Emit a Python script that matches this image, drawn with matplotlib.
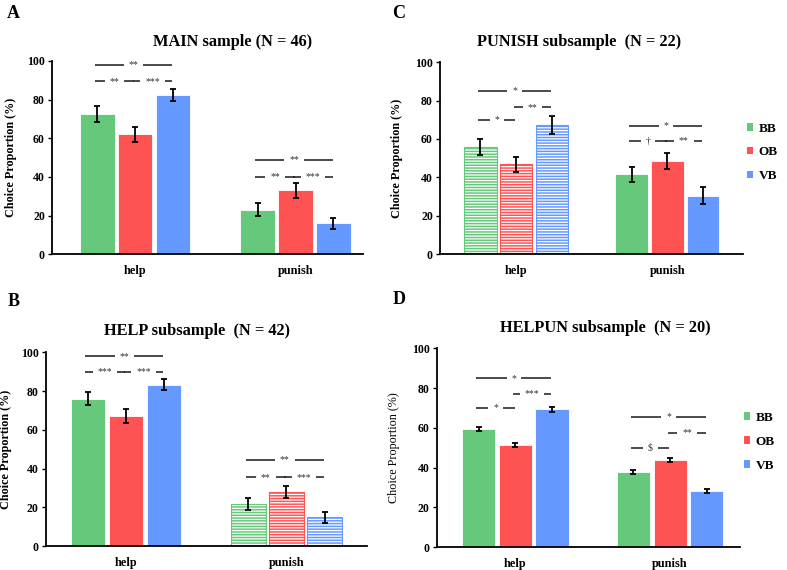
import numpy as np
from matplotlib import use
use("Agg")
from matplotlib import pyplot as plt
from matplotlib.patches import Patch

plt.rcParams['font.family'] = ['Liberation Serif', 'DejaVu Serif']
plt.rcParams['font.weight'] = 'bold'
plt.rcParams['hatch.linewidth'] = 1.1

groups = ["help", "punish"]
conditions = ["BB", "OB", "VB"]
colors = ["#66C87B", "#FF5353", "#6699FF"]

# values are [help, punish] per condition
main_bb, main_ob, main_vb = [72.4, 23.1], [62.0, 33.1], [82.4, 15.9]
main_bb_err, main_ob_err, main_vb_err = [4.1, 3.5], [4.0, 4.0], [3.0, 3.1]

help_bb, help_ob, help_vb = [76.0, 21.5], [67.2, 28.0], [83.3, 14.8]
help_bb_err, help_ob_err, help_vb_err = [3.3, 3.1], [3.5, 3.2], [3.0, 2.7]

pun_bb, pun_ob, pun_vb = [55.8, 41.6], [46.8, 48.5], [67.2, 30.5]
pun_bb_err, pun_ob_err, pun_vb_err = [4.2, 4.0], [4.0, 4.3], [4.7, 4.5]

hp_bb, hp_ob, hp_vb = [59.5, 37.8], [51.5, 43.8], [69.4, 28.3]
hp_bb_err, hp_ob_err, hp_vb_err = [1.0, 1.0], [0.9, 0.8], [1.2, 1.1]

# significance: (group, bar_from, bar_to, level, label)
main_sig = [(0, 0, 2, 98, "**"), (0, 0, 1, 89.5, "**"), (0, 1, 2, 89.5, "***"),
            (1, 0, 2, 49, "**"), (1, 0, 1, 40, "**"), (1, 1, 2, 40, "***")]
help_sig = [(0, 0, 2, 98, "**"), (0, 0, 1, 90, "***"), (0, 1, 2, 90, "***"),
            (1, 0, 2, 44.5, "**"), (1, 0, 1, 35.5, "**"), (1, 1, 2, 35.5, "***")]
pun_sig = [(0, 0, 2, 85, "*"), (0, 1, 2, 76.5, "**"), (0, 0, 1, 70, "*"),
           (1, 0, 2, 67, "*"), (1, 0, 1, 59, "\u2020"), (1, 1, 2, 59, "**")]
hp_sig = [(0, 0, 2, 85, "*"), (0, 1, 2, 77, "***"), (0, 0, 1, 70, "*"),
          (1, 0, 2, 65.7, "*"), (1, 1, 2, 57.5, "**"), (1, 0, 1, 50, "$")]

panels = [
    dict(letter="A", title="MAIN sample (N = 46)", vals=[main_bb, main_ob, main_vb],
         errs=[main_bb_err, main_ob_err, main_vb_err], sig=main_sig, hatched=None,
         rect=[0.066, 0.554, 0.395, 0.339], xlim=(-0.52, 1.42), tx=0.58, ty=1.098,
         lx=-0.113, legend=False, letter_xy=(7, 14), ylw='bold'),
    dict(letter="C", title="PUNISH subsample  (N = 22)", vals=[pun_bb, pun_ob, pun_vb],
         errs=[pun_bb_err, pun_ob_err, pun_vb_err], sig=pun_sig, hatched=0,
         rect=[0.559, 0.554, 0.385, 0.337], xlim=(-0.505, 1.5), tx=0.46, ty=1.104,
         lx=-0.122, legend=True, letter_xy=(392, 13), ylw='bold'),
    dict(letter="B", title="HELP subsample  (N = 42)", vals=[help_bb, help_ob, help_vb],
         errs=[help_bb_err, help_ob_err, help_vb_err], sig=help_sig, hatched=1,
         rect=[0.058, 0.042, 0.408, 0.340], xlim=(-0.5, 1.5), tx=0.47, ty=1.108,
         lx=-0.106, legend=False, letter_xy=(8, 302), ylw='bold'),
    dict(letter="D", title="HELPUN subsample  (N = 20)", vals=[hp_bb, hp_ob, hp_vb],
         errs=[hp_bb_err, hp_ob_err, hp_vb_err], sig=hp_sig, hatched=None,
         rect=[0.555, 0.040, 0.385, 0.349], xlim=(-0.508, 1.45), tx=0.555, ty=1.10,
         lx=-0.122, legend=True, letter_xy=(393, 300), ylw='normal'),
]

W, H = 787, 570
fig = plt.figure(figsize=(W / 100, H / 100), dpi=100)
x = np.arange(len(groups))
width = 0.215
offsets = [-0.237, 0.0, 0.237]

for pn in panels:
    ax = fig.add_axes(pn["rect"])
    for k in range(3):
        for g in range(2):
            if pn["hatched"] == g:
                ax.bar(x[g] + offsets[k], pn["vals"][k][g], width, facecolor="white",
                       edgecolor=colors[k], hatch="------", linewidth=0.8)
            else:
                ax.bar(x[g] + offsets[k], pn["vals"][k][g], width, color=colors[k],
                       edgecolor="white", linewidth=0.6)
        ax.errorbar(x + offsets[k], pn["vals"][k], yerr=pn["errs"][k], fmt="none",
                    ecolor="black", elinewidth=1.3, capsize=2.5, capthick=1.3)
    for g, i, j, lvl, lab in pn["sig"]:
        x0 = x[g] + offsets[i] - 0.015
        x1 = x[g] + offsets[j] - 0.005
        ax.plot([x0, x1], [lvl, lvl], color="#1a1a1a", lw=1.1, solid_capstyle="butt")
        ax.text((x0 + x1) / 2, lvl, lab, ha="center", va="center", fontsize=7,
                fontweight="normal", color="#333333",
                bbox=dict(facecolor="white", edgecolor="none", pad=3.5))
    ax.set_ylim(0, 100)
    ax.set_xlim(*pn["xlim"])
    ax.set_yticks(np.arange(0, 101, 20))
    ax.set_xticks(x)
    ax.set_xticklabels(groups, fontsize=8.8, fontweight="bold")
    ax.tick_params(axis="x", length=0, pad=8)
    ax.tick_params(axis="y", length=3, width=1, labelsize=8.5, pad=2)
    for lbl in ax.get_yticklabels():
        lbl.set_fontweight("bold")
    for s in ["top", "right"]:
        ax.spines[s].set_visible(False)
    for s in ["left", "bottom"]:
        ax.spines[s].set_linewidth(1.3)
    ax.set_ylabel("Choice Proportion (%)", fontsize=8.7, fontweight=pn["ylw"])
    ax.yaxis.set_label_coords(pn["lx"], 0.5)
    ax.text(pn["tx"], pn["ty"], pn["title"], transform=ax.transAxes, ha="center",
            va="center", fontsize=11.8, fontweight="bold")
    fig.text(pn["letter_xy"][0] / W, 1 - pn["letter_xy"][1] / H, pn["letter"],
             ha="left", va="center", fontsize=13, fontweight="bold")
    if pn["legend"]:
        handles = [Patch(facecolor=c, edgecolor="none") for c in colors]
        ax.legend(handles, conditions, loc="center left", bbox_to_anchor=(1.0, 0.53),
                  frameon=False, handlelength=0.5, handleheight=0.5,
                  handletextpad=0.4, labelspacing=0.9, borderaxespad=0,
                  borderpad=0.3, prop=dict(size=9.5, weight="bold"))

fig.savefig("out.png", dpi=100)
